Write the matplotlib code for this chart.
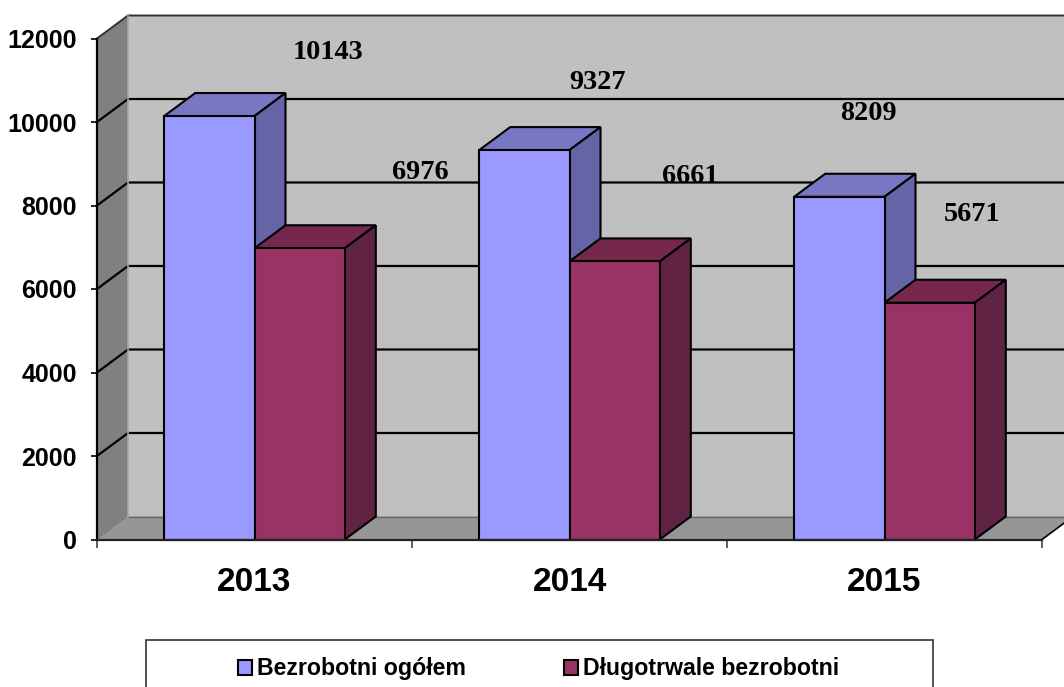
import matplotlib
matplotlib.use('Agg')
import matplotlib.pyplot as plt
from matplotlib.patches import Polygon, Rectangle
import numpy as np

years = ['2013', '2014', '2015']
bezrobotni_ogolem = [10143, 9327, 8209]
dlugotrwale = [6976, 6661, 5671]
series_names = ['Bezrobotni ogółem', 'Długotrwale bezrobotni']
y_ticks = [0, 2000, 4000, 6000, 8000, 10000, 12000]

# label offsets from the bar's front top centre, in pixels
offsets_ogolem = [(119, 64), (73, 68), (29, 83)]
offsets_dlugo = [(121, 76), (76, 85), (42, 88)]

W, H = 1064, 687
fig = plt.figure(figsize=(W / 100, H / 100), dpi=100)
ax = fig.add_axes([97 / W, (H - 539.5) / H, (1042 - 97) / W, (539.5 - 38.5) / H])
ax.set_xlim(0, 3)
ax.set_ylim(0, 12000)
ax.patch.set_alpha(0)

# depth of the fake 3d box, in data units
dx = 31 / 315
dy = 23 / 501 * 12000
bar_w = 90.3 / 315


def face(pts, color, edge='none', lw=0, z=1):
    ax.add_patch(Polygon(pts, closed=True, facecolor=color, edgecolor=edge, linewidth=lw,
                         zorder=z, clip_on=False, joinstyle='miter'))


# walls and floor
face([(dx, dy), (3 + dx, dy), (3 + dx, 12000 + dy), (dx, 12000 + dy)], '#C0C0C0')
face([(0, 0), (dx, dy), (dx, 12000 + dy), (0, 12000)], '#808080')
face([(0, 0), (3, 0), (3 + dx, dy), (dx, dy)], '#969696')

# grid lines go across the side wall and the back wall
for v in y_ticks[1:-1]:
    ax.plot([0, dx, 3 + dx], [v, v + dy, v + dy], color='black', lw=1.6, zorder=2,
            clip_on=False, solid_joinstyle='miter')
ax.plot([0, dx, 3 + dx], [12000, 12000 + dy, 12000 + dy], color='#333333', lw=1.4, zorder=2,
        clip_on=False, solid_joinstyle='miter')
ax.plot([dx, 3 + dx], [dy, dy], color='#666666', lw=1.0, zorder=2, clip_on=False)
ax.plot([0, dx], [0, dy], color='#666666', lw=0.8, ls=':', zorder=2, clip_on=False)
ax.plot([dx, dx], [dy, 12000 + dy], color='#A6A6A6', lw=1.2, zorder=2, clip_on=False)
ax.plot([3, 3 + dx], [0, dy], color='black', lw=1.2, zorder=2, clip_on=False)


def draw_bars(x_left, values, color, top_color, side_color):
    ax.bar(x_left, values, width=bar_w, align='edge', color=color, edgecolor='black',
           linewidth=1.5, zorder=5, clip_on=False)
    for x, v in zip(x_left, values):
        face([(x, v), (x + bar_w, v), (x + bar_w + dx, v + dy), (x + dx, v + dy)],
             top_color, 'black', 1.5, z=4)
        face([(x + bar_w, 0), (x + bar_w + dx, dy), (x + bar_w + dx, v + dy), (x + bar_w, v)],
             side_color, 'black', 1.5, z=4)


centers = np.arange(3) + 0.5
draw_bars(centers - bar_w, bezrobotni_ogolem, '#9999FF', '#7777C4', '#6464A6')
draw_bars(centers, dlugotrwale, '#993366', '#75274E', '#612344')

# value labels float away from the bars
for x, v, off in zip(centers - bar_w / 2, bezrobotni_ogolem, offsets_ogolem):
    ax.annotate(str(v), (x, v), xytext=off, textcoords='offset pixels', ha='center', va='center',
                family='Liberation Serif', weight='bold', fontsize=20.3, zorder=8, annotation_clip=False)
for x, v, off in zip(centers + bar_w / 2, dlugotrwale, offsets_dlugo):
    ax.annotate(str(v), (x, v), xytext=off, textcoords='offset pixels', ha='center', va='center',
                family='Liberation Serif', weight='bold', fontsize=20.3, zorder=8, annotation_clip=False)

# axes
for s in ['top', 'right']:
    ax.spines[s].set_visible(False)
ax.spines['left'].set_linewidth(1.6)
ax.spines['bottom'].set_linewidth(1.6)
ax.spines['bottom'].set_color('#222222')
ax.spines['left'].set_zorder(6)
ax.spines['bottom'].set_zorder(6)
ax.set_yticks(y_ticks)
ax.set_yticklabels([str(v) for v in y_ticks], family='Liberation Sans', weight='bold', fontsize=18)
ax.tick_params(axis='y', length=4.5, width=1.2, pad=10)
ax.set_xticks([0, 1, 2, 3])
ax.set_xticklabels([])
ax.tick_params(axis='x', length=6, width=1.2, color='#444444')
ax.set_xticks(centers, minor=True)
ax.set_xticklabels(years, minor=True, family='Liberation Sans', weight='bold', fontsize=24)
ax.tick_params(axis='x', which='minor', length=0, pad=20)

# legend box runs off the bottom of the picture
fig.add_artist(Rectangle((146 / W, -0.02), (933 - 146) / W, (H - 640) / H + 0.02,
                         transform=fig.transFigure, facecolor='white', edgecolor='#333333', linewidth=1.2))
handles = [
    Rectangle((0, 0), 1, 1, facecolor='#9999FF', edgecolor='black', linewidth=1.5),
    Rectangle((0, 0), 1, 1, facecolor='#993366', edgecolor='black', linewidth=1.5),
]
leg = fig.legend(handles, series_names, loc='center left', bbox_to_anchor=(231 / W, (H - 669) / H),
                 ncols=2, frameon=False, handlelength=0.6, handleheight=0.6, handletextpad=0.21,
                 columnspacing=4.25, borderpad=0.3, borderaxespad=0,
                 prop={'family': 'Liberation Sans', 'weight': 'bold', 'size': 16.7})
leg.set_zorder(10)

fig.savefig('out.png', dpi=100)
